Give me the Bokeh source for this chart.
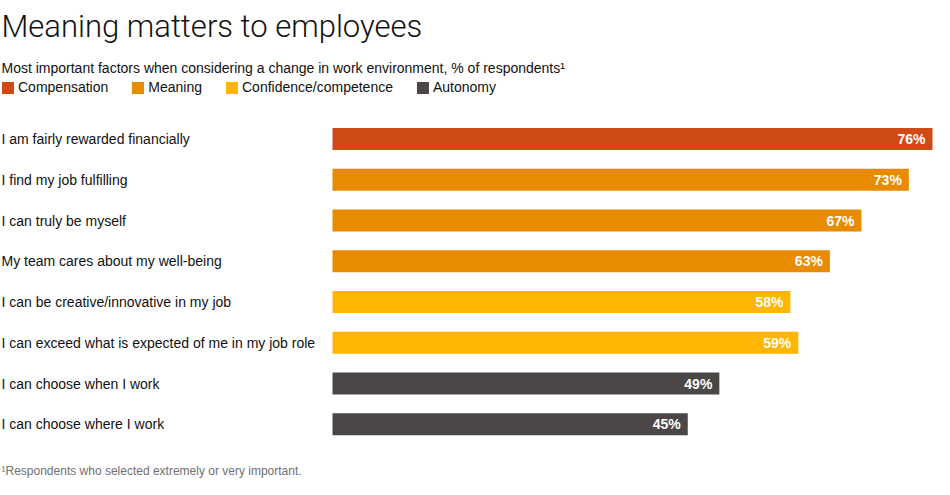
from bokeh.plotting import figure
from bokeh.models import Range1d, Label, Legend, LegendItem, ColumnDataSource, CDSView, GroupFilter
from bokeh.core.properties import value
from bokeh.embed import file_html
from bokeh.resources import INLINE

# ---- data ----
categories = [
    "I am fairly rewarded financially",
    "I find my job fulfilling",
    "I can truly be myself",
    "My team cares about my well-being",
    "I can be creative/innovative in my job",
    "I can exceed what is expected of me in my job role",
    "I can choose when I work",
    "I can choose where I work",
]
values = [76, 73, 67, 63, 58, 59, 49, 45]
groups = ["Compensation", "Meaning", "Meaning", "Meaning",
          "Confidence/competence", "Confidence/competence", "Autonomy", "Autonomy"]
group_names = ["Compensation", "Meaning", "Confidence/competence", "Autonomy"]
group_colors = ["#D04A17", "#E88B00", "#FFB600", "#4B4746"]
value_labels = [f"{v}%" for v in values]

title = "Meaning matters to employees"
subtitle = "Most important factors when considering a change in work environment, % of respondents\u00b9"
footnote = "\u00b9Respondents who selected extremely or very important."

# ---- layout helpers (pixel <-> data) ----
W, H = 934, 479
X0 = 332.0        # pixel where 0% sits
S = 7.895         # pixels per percent
Y0 = 138.6        # pixel centre of first row
STEP = 40.74      # pixels between rows
FONT = "Liberation Sans"


def xd(px):
    return (px - X0) / S


def yd(py):
    return (py - Y0) / STEP


p = figure(width=W, height=H, output_backend="svg", toolbar_location=None,
           x_range=Range1d(xd(0), xd(W)), y_range=Range1d(yd(H), yd(0)),
           x_axis_location=None, y_axis_location=None,
           min_border=0, outline_line_color=None)
p.grid.visible = False
p.background_fill_color = "white"
p.border_fill_color = "white"

rows = list(range(len(categories)))
colors = [group_colors[group_names.index(g)] for g in groups]
src = ColumnDataSource(dict(y=rows, value=values, cat=categories, group=groups,
                            color=colors, label=value_labels))

items = []
for g, c in zip(group_names, group_colors):
    view = CDSView(filter=GroupFilter(column_name="group", group=g))
    r = p.hbar(y="y", left=0, right="value", height=22 / STEP, source=src, view=view,
               fill_color=c, line_color=None)
    items.append(LegendItem(label=g, renderers=[r]))

p.text(x=xd(1), y="y", text="cat", source=src, text_align="left", text_baseline="middle",
       text_font=value(FONT), text_font_size="14px", text_color="#111111")
p.text(x="value", y="y", text="label", source=src, x_offset=-7, text_align="right",
       text_baseline="middle", text_font=value(FONT), text_font_size="14px",
       text_font_style="bold", text_color="white")

p.add_layout(Label(x=xd(1), y=yd(26), text=title, text_baseline="alphabetic",
                   text_font="Roboto Light", text_font_size="31px", text_color="#111111"))
p.add_layout(Label(x=xd(1), y=yd(67.5), text=subtitle, text_baseline="alphabetic",
                   text_font=FONT, text_font_size="14px", text_color="#111111"))
p.add_layout(Label(x=xd(1), y=yd(470), text=footnote, text_baseline="alphabetic",
                   text_font=FONT, text_font_size="12px", text_color="#707070"))

legend = Legend(items=items, orientation="horizontal", location=(0, H - 95),
                glyph_width=15, glyph_height=15, label_standoff=3, spacing=22,
                padding=0, margin=0, border_line_color=None, background_fill_alpha=0,
                label_text_font=FONT, label_text_font_size="14px", label_height=15,
                label_text_color="#111111")
p.add_layout(legend)

open("out.html", "w").write(file_html(p, INLINE))
